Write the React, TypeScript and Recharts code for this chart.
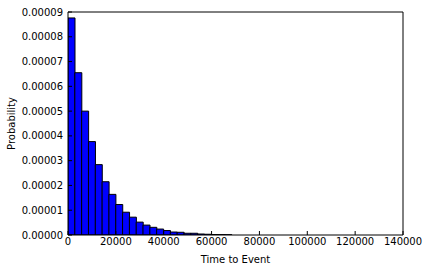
import React from 'react';
import { ComposedChart, Bar, XAxis, YAxis } from 'recharts';

// histogram bins (left edges), width
const binWidth = 2850;
const binStarts = [
  0, 2850, 5700, 8550, 11400, 14250, 17100, 19950, 22800, 25650, 28500, 31350,
  34200, 37050, 39900, 42750, 45600, 48450, 51300, 54150, 57000, 59850, 62700, 65550,
];
const probabilities = [
  8.76e-5, 6.55e-5, 5.0e-5, 3.77e-5, 2.84e-5, 2.15e-5, 1.64e-5, 1.23e-5, 0.92e-5, 0.72e-5, 0.52e-5, 0.4e-5,
  0.31e-5, 0.24e-5, 0.18e-5, 0.12e-5, 0.11e-5, 0.07e-5, 0.07e-5, 0.04e-5, 0.03e-5, 0.02e-5, 0.015e-5, 0.01e-5,
];
const xTicks = [0, 20000, 40000, 60000, 80000, 100000, 120000, 140000];
const yTicks = [0, 0.00001, 0.00002, 0.00003, 0.00004, 0.00005, 0.00006, 0.00007, 0.00008, 0.00009];

const data = binStarts.map((start, i) => ({ x: start + binWidth / 2, p: probabilities[i] }));

const font = { fontFamily: '"DejaVu Sans", sans-serif', fontSize: 10, fill: '#000' };

export default function App() {
  return (
    <div style={{ width: 428, height: 271, fontFamily: '"DejaVu Sans", sans-serif' }}>
      <style>{'body { margin: 0; }'}</style>
      <ComposedChart
        width={428}
        height={271}
        data={data}
        margin={{ top: 11, right: 24, bottom: 0, left: 0 }}
        barCategoryGap={0}
        barGap={0}
      >
        <XAxis
          xAxisId="b"
          dataKey="x"
          type="number"
          domain={[0, 140000]}
          ticks={xTicks}
          allowDataOverflow
          height={36}
          tickSize={-4}
          tickMargin={7}
          stroke="#000"
          tick={font}
          label={{ value: 'Time to Event', position: 'insideBottom', offset: 8, style: font }}
        />
        <XAxis
          xAxisId="t"
          orientation="top"
          dataKey="x"
          type="number"
          domain={[0, 140000]}
          ticks={xTicks}
          allowDataOverflow
          height={1}
          tickSize={-4}
          tick={false}
          stroke="#000"
        />
        <YAxis
          yAxisId="l"
          type="number"
          domain={[0, 0.00009]}
          ticks={yTicks}
          allowDataOverflow
          width={68}
          tickSize={-4}
          tickMargin={9}
          stroke="#000"
          tick={font}
          tickFormatter={(v: number) => v.toFixed(5)}
          label={{
            value: 'Probability',
            angle: -90,
            position: 'insideLeft',
            offset: 11,
            style: { ...font, textAnchor: 'middle' },
          }}
        />
        <YAxis
          yAxisId="r"
          orientation="right"
          type="number"
          domain={[0, 0.00009]}
          ticks={yTicks}
          allowDataOverflow
          width={1}
          tickSize={-4}
          tick={false}
          stroke="#000"
        />
        <Bar
          xAxisId="b"
          yAxisId="l"
          dataKey="p"
          fill="#0000ff"
          stroke="#000"
          strokeWidth={1}
          isAnimationActive={false}
        />
      </ComposedChart>
    </div>
  );
}
